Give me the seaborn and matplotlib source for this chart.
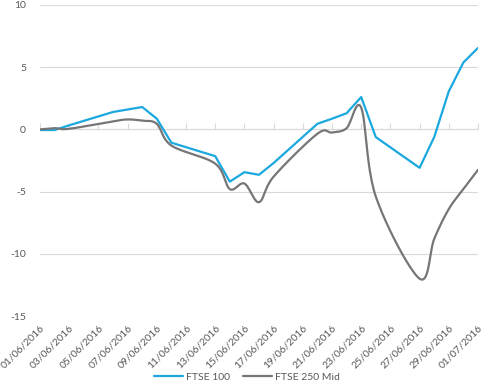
import numpy as np
import pandas as pd
import matplotlib
matplotlib.use("Agg")
import matplotlib.pyplot as plt
import matplotlib.dates as mdates
import seaborn as sns

# ---- data ----
dates = ["2016-06-01", "2016-06-02", "2016-06-03", "2016-06-06", "2016-06-07",
         "2016-06-08", "2016-06-09", "2016-06-10", "2016-06-13", "2016-06-14",
         "2016-06-15", "2016-06-16", "2016-06-17", "2016-06-20", "2016-06-21",
         "2016-06-22", "2016-06-23", "2016-06-24", "2016-06-27", "2016-06-28",
         "2016-06-29", "2016-06-30", "2016-07-01"]
ftse100 = [-0.05, -0.05, 0.33, 1.4, 1.6, 1.8, 0.86, -1.07, -2.15, -4.2,
           -3.44, -3.65, -2.7, 0.45, 0.86, 1.3, 2.6, -0.62, -3.09, -0.62,
           3.06, 5.38, 6.55]
ftse250 = [0.0, 0.1, 0.05, 0.65, 0.8, 0.7, 0.45, -1.3, -2.75, -4.8,
           -4.35, -5.85, -3.8, -0.35, -0.25, 0.1, 1.75, -5.4, -12.0, -8.8,
           -6.4, -4.8, -3.25]
series_names = ["FTSE 100", "FTSE 250 Mid"]
yticks = [-15, -10, -5, 0, 5, 10]

BLUE = "#1BA8DF"
GREY = "#767676"
GRID = "#D9D9D9"
TXT = "#595959"

sns.set_theme(style="white")
plt.rcParams["font.family"] = ["Lato", "DejaVu Sans"]
plt.rcParams["axes.unicode_minus"] = False

d = pd.to_datetime(dates)
start = d[0]
days = np.array([(x - start).days for x in d], dtype=float)


def catmull_rom(xs, ys, n=24):
    """Excel-style smoothed line path through the given points."""
    px = np.concatenate([[xs[0]], xs, [xs[-1]]])
    py = np.concatenate([[ys[0]], ys, [ys[-1]]])
    outx, outy = [], []
    t = np.linspace(0, 1, n, endpoint=False)
    h00 = 2 * t**3 - 3 * t**2 + 1
    h10 = t**3 - 2 * t**2 + t
    h01 = -2 * t**3 + 3 * t**2
    h11 = t**3 - t**2
    for i in range(1, len(px) - 2):
        for p, out in ((px, outx), (py, outy)):
            m1 = (p[i + 1] - p[i - 1]) / 2
            m2 = (p[i + 2] - p[i]) / 2
            out.extend(h00 * p[i] + h10 * m1 + h01 * p[i + 1] + h11 * m2)
    outx.append(xs[-1])
    outy.append(ys[-1])
    return np.array(outx), np.array(outy)


sx, sy = catmull_rom(days, np.array(ftse250, dtype=float))
smooth_dates = start + pd.to_timedelta(sx, unit="D")

df100 = pd.DataFrame({"date": d, "value": ftse100})
df250 = pd.DataFrame({"date": smooth_dates, "value": sy})

fig = plt.figure(figsize=(4.94, 3.87), dpi=100)
ax = fig.add_axes([40 / 494, 1 - 316 / 387, 438 / 494, 311 / 387])

sns.lineplot(data=df100, x="date", y="value", ax=ax, color=BLUE, lw=1.6,
             label=series_names[0], estimator=None, sort=False, zorder=3)
sns.lineplot(data=df250, x="date", y="value", ax=ax, color=GREY, lw=1.6,
             label=series_names[1], estimator=None, sort=False, zorder=3)

ax.set_ylim(-15, 10)
ax.set_yticks(yticks)
ax.set_xlim(pd.Timestamp("2016-06-01"), pd.Timestamp("2016-07-01"))
tick_dates = pd.date_range("2016-06-01", "2016-07-01", freq="2D")
ax.set_xticks(tick_dates)
ax.set_xticklabels([t.strftime("%d/%m/%Y") for t in tick_dates],
                   rotation=45, ha="right", rotation_mode="anchor",
                   fontsize=7.5, color=TXT)
ax.tick_params(axis="x", length=0, pad=5)
ax.tick_params(axis="y", length=0, labelsize=7.5, labelcolor=TXT, pad=10)
ax.set_xlabel("")
ax.set_ylabel("")
ax.grid(axis="y", color=GRID, lw=0.8)
ax.grid(axis="x", visible=False)
for s in ax.spines.values():
    s.set_visible(False)

# horizontal category axis crossing at 0
sec = ax.secondary_xaxis(15 / 25)
sec.set_xticks(mdates.date2num(tick_dates))
sec.tick_params(axis="x", direction="out", length=4, color=GRID, width=0.8,
                labelbottom=False, labeltop=False)
for s in sec.spines.values():
    s.set_color(GRID)
    s.set_linewidth(0.8)
sec.set_zorder(1)

leg = ax.get_legend()
if leg is not None:
    leg.remove()
handles, labels = ax.get_legend_handles_labels()
fig.legend(handles, labels, loc="center", bbox_to_anchor=(0.5, 10 / 387),
           ncol=2, frameon=False, fontsize=7.5, handlelength=2.8,
           columnspacing=1.2, handletextpad=0.3, labelcolor=TXT)

fig.savefig("out.png", dpi=100)
